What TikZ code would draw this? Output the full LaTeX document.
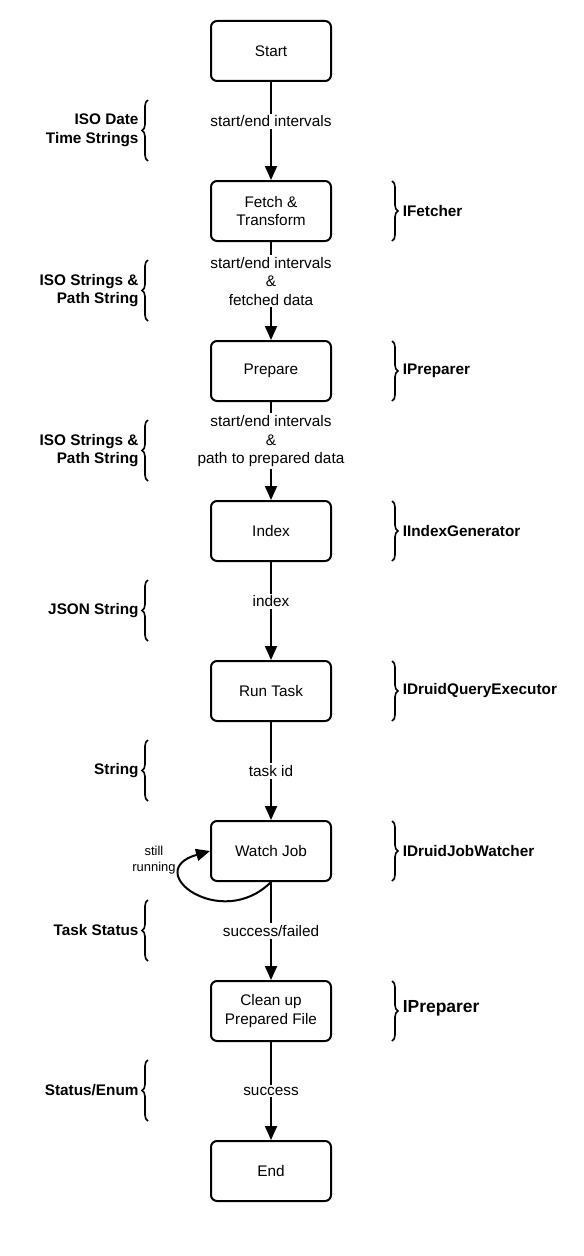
\documentclass[tikz,border=0pt]{standalone}
\usepackage{fontspec}
\setmainfont{Liberation Sans}
\usetikzlibrary{positioning,arrows.meta,decorations.pathreplacing}

\begin{document}
\begin{tikzpicture}[x=0.75pt,y=-0.75pt,>={Triangle[length=10.5pt,width=9pt]},
  stepbox/.style={draw,line width=1.5pt,rounded corners=4.5pt,minimum width=90pt,minimum height=45pt,align=center,font=\fontsize{11.5}{14}\selectfont},
  flow/.style={->,line width=1.5pt},
  lbl/.style={fill=white,align=center,inner sep=1.5pt,font=\fontsize{11.5}{14}\selectfont},
  tybrace/.style={decorate,decoration={brace,amplitude=4.5pt},line width=1.2pt},
  tytext/.style={font=\bfseries\fontsize{11.5}{14}\selectfont,align=right,inner sep=0pt},
  iftext/.style={font=\bfseries\fontsize{11.5}{14}\selectfont,align=left,inner sep=0pt}]
  \useasboundingbox (0,0) rectangle (584,1256);
  \def\cx{271}
  % the steps
  \node[stepbox] (start) at (\cx,51) {Start};
  \node[stepbox] (fetch) at (\cx,211) {Fetch \&\\Transform};
  \node[stepbox] (prep) at (\cx,371) {Prepare};
  \node[stepbox] (idx) at (\cx,531) {Index};
  \node[stepbox] (run) at (\cx,691) {Run Task};
  \node[stepbox] (watch) at (\cx,851) {Watch Job};
  \node[stepbox] (clean) at (\cx,1011) {Clean up\\Prepared File};
  \node[stepbox] (stop) at (\cx,1171) {End};
  % connectors
  \draw[flow] (start) -- (fetch) node[lbl,pos=0.4]{start/end intervals};
  \draw[flow] (fetch) -- (prep) node[lbl,pos=0.4]{start/end intervals\\\&\\fetched data};
  \draw[flow] (prep) -- (idx) node[lbl,pos=0.4]{start/end intervals\\\&\\path to prepared data};
  \draw[flow] (idx) -- (run) node[lbl,pos=0.4]{index};
  \draw[flow] (run) -- (watch) node[lbl,midway]{task id};
  \draw[flow] (watch) -- (clean) node[lbl,midway]{success/failed};
  \draw[flow] (clean) -- (stop) node[lbl,midway]{success};
  % retry loop
  \draw[flow] (watch.south) .. controls +(-50,50) and +(-70,20) .. (watch.west);
  \node[align=center,font=\fontsize{9.7}{12}\selectfont] (still) at (154,860) {still\\running};
  % data types on the left
  \draw[tybrace] (148,161) -- (148,100) node[midway,left=6.5pt,tytext]{ISO Date\\Time Strings};
  \draw[tybrace] (148,321) -- (148,260) node[midway,left=6.5pt,tytext]{ISO Strings \&\\Path String};
  \draw[tybrace] (148,481) -- (148,420) node[midway,left=6.5pt,tytext]{ISO Strings \&\\Path String};
  \draw[tybrace] (148,641) -- (148,580) node[midway,left=6.5pt,tytext]{JSON String};
  \draw[tybrace] (148,801) -- (148,740) node[midway,left=6.5pt,tytext]{String};
  \draw[tybrace] (148,961) -- (148,900) node[midway,left=6.5pt,tytext]{Task Status};
  \draw[tybrace] (148,1121) -- (148,1060) node[midway,left=6.5pt,tytext]{Status/Enum};
  % interfaces on the right
  \draw[tybrace] (392,181) -- (392,241) node[midway,right=7.5pt,iftext]{IFetcher};
  \draw[tybrace] (392,341) -- (392,401) node[midway,right=7.5pt,iftext]{IPreparer};
  \draw[tybrace] (392,501) -- (392,561) node[midway,right=7.5pt,iftext]{IIndexGenerator};
  \draw[tybrace] (392,661) -- (392,721) node[midway,right=7.5pt,iftext]{IDruidQueryExecutor};
  \draw[tybrace] (392,821) -- (392,881) node[midway,right=7.5pt,iftext]{IDruidJobWatcher};
  \draw[tybrace] (392,981) -- (392,1041) node[midway,right=7.5pt,iftext,font=\bfseries\fontsize{13.1}{16}\selectfont,yshift=2.2pt]{IPreparer};
\end{tikzpicture}
\end{document}
